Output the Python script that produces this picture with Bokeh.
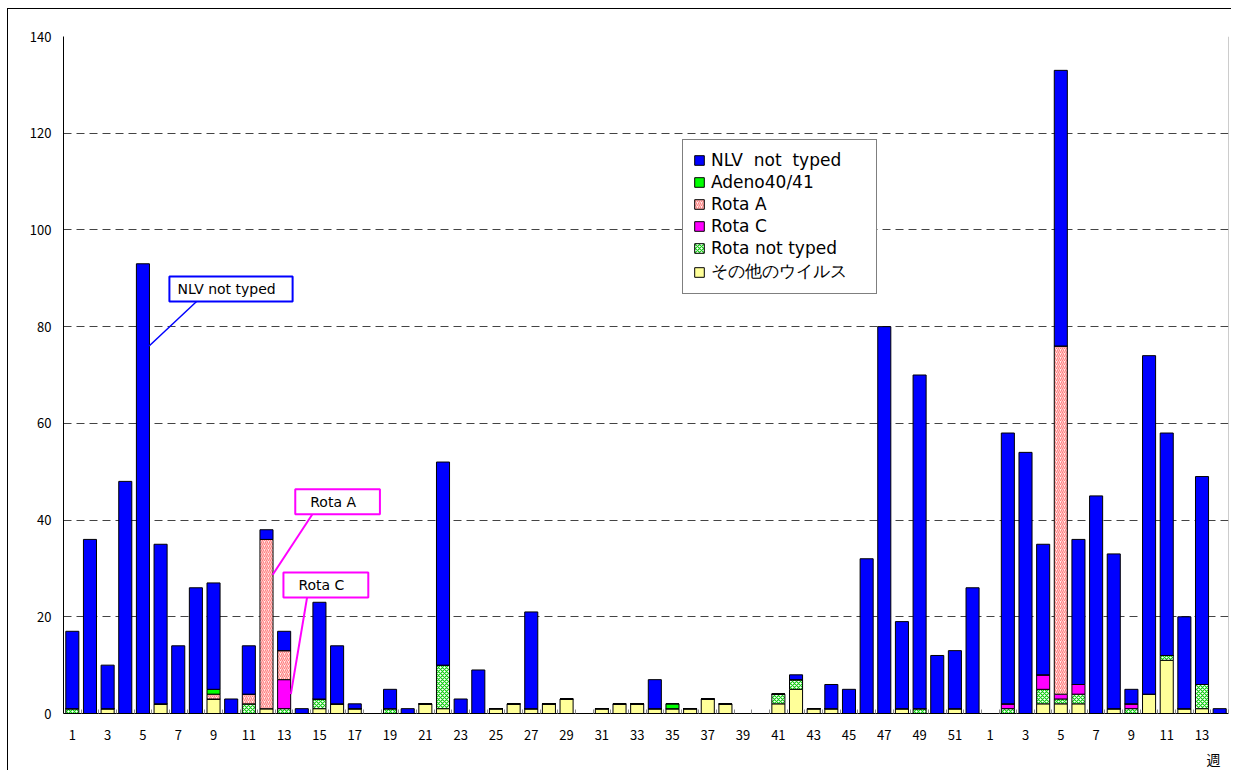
from bokeh.plotting import figure
from bokeh.models import (Range1d, FixedTicker, Legend, LegendItem, Label,
                          ColumnDataSource, LinearAxis, Span)
from bokeh.embed import file_html
from bokeh.resources import INLINE

# ---- data (week number; 52 weeks of year 1, then 14 weeks of year 2) ----
weeks = [1, 2, 3, 4, 5, 6, 7, 8, 9, 10, 11, 12, 13, 14, 15, 16, 17, 18, 19, 20,
         21, 22, 23, 24, 25, 26, 27, 28, 29, 30, 31, 32, 33, 34, 35, 36, 37, 38, 39, 40,
         41, 42, 43, 44, 45, 46, 47, 48, 49, 50, 51, 52,
         1, 2, 3, 4, 5, 6, 7, 8, 9, 10, 11, 12, 13, 14]

other = [0, 0, 1, 0, 0, 2, 0, 0, 3, 0, 0, 1, 0, 0, 1, 2, 1, 0, 0, 0,
         2, 1, 0, 0, 1, 2, 1, 2, 3, 0, 1, 2, 2, 1, 1, 1, 3, 2, 0, 0,
         2, 5, 1, 1, 0, 0, 0, 1, 0, 0, 1, 0,
         0, 0, 0, 2, 2, 2, 0, 1, 0, 4, 11, 1, 1, 0]
rota_nt = [1, 0, 0, 0, 0, 0, 0, 0, 0, 0, 2, 0, 1, 0, 2, 0, 0, 0, 1, 0,
           0, 9, 0, 0, 0, 0, 0, 0, 0, 0, 0, 0, 0, 0, 0, 0, 0, 0, 0, 0,
           2, 2, 0, 0, 0, 0, 0, 0, 1, 0, 0, 0,
           0, 1, 0, 3, 1, 2, 0, 0, 1, 0, 1, 0, 5, 0]
rota_c = [0, 0, 0, 0, 0, 0, 0, 0, 0, 0, 0, 0, 6, 0, 0, 0, 0, 0, 0, 0,
          0, 0, 0, 0, 0, 0, 0, 0, 0, 0, 0, 0, 0, 0, 0, 0, 0, 0, 0, 0,
          0, 0, 0, 0, 0, 0, 0, 0, 0, 0, 0, 0,
          0, 1, 0, 3, 1, 2, 0, 0, 1, 0, 0, 0, 0, 0]
rota_a = [0, 0, 0, 0, 0, 0, 0, 0, 1, 0, 2, 35, 6, 0, 0, 0, 0, 0, 0, 0,
          0, 0, 0, 0, 0, 0, 0, 0, 0, 0, 0, 0, 0, 0, 0, 0, 0, 0, 0, 0,
          0, 0, 0, 0, 0, 0, 0, 0, 0, 0, 0, 0,
          0, 0, 0, 0, 72, 0, 0, 0, 0, 0, 0, 0, 0, 0]
adeno = [0, 0, 0, 0, 0, 0, 0, 0, 1, 0, 0, 0, 0, 0, 0, 0, 0, 0, 0, 0,
         0, 0, 0, 0, 0, 0, 0, 0, 0, 0, 0, 0, 0, 0, 1, 0, 0, 0, 0, 0,
         0, 0, 0, 0, 0, 0, 0, 0, 0, 0, 0, 0,
         0, 0, 0, 0, 0, 0, 0, 0, 0, 0, 0, 0, 0, 0]
nlv = [16, 36, 9, 48, 93, 33, 14, 26, 22, 3, 10, 2, 4, 1, 20, 12, 1, 0, 4, 1,
       0, 42, 3, 9, 0, 0, 20, 0, 0, 0, 0, 0, 0, 6, 0, 0, 0, 0, 0, 0,
       0, 1, 0, 5, 5, 32, 80, 18, 69, 12, 12, 26,
       0, 56, 54, 27, 57, 30, 45, 32, 3, 70, 46, 19, 43, 1]

series_keys = ["other", "rota_nt", "rota_c", "rota_a", "adeno", "nlv"]
series_labels = ["その他のウイルス", "Rota not typed", "Rota C", "Rota A",
                 "Adeno40/41", "NLV  not  typed"]
y_ticks = [0, 20, 40, 60, 80, 100, 120, 140]
x_unit_label = "週"

FONT = "Noto Sans CJK JP"
LFONT = "DejaVu Sans"

n = len(weeks)
xs = list(range(n))
src = ColumnDataSource(dict(x=xs, other=other, rota_nt=rota_nt, rota_c=rota_c,
                            rota_a=rota_a, adeno=adeno, nlv=nlv))

p = figure(width=1224, height=762, output_backend="svg", toolbar_location=None,
           x_range=Range1d(-0.5, n - 0.5), y_range=Range1d(0, 140),
           min_border_left=55, min_border_right=4, min_border_top=27,
           min_border_bottom=55)
p.outline_line_color = None
p.background_fill_color = "white"
p.border_fill_color = "white"
p.styles = {"margin-left": "7px", "margin-top": "8px",
            "border-left": "1px solid black", "border-top": "1px solid black"}

rs = p.vbar_stack(series_keys, x="x", width=0.74, source=src,
                  fill_color=["#ffff99", "#ffffff", "#ff00ff", "#fff0f0", "#00ff00", "#0000ff"],
                  line_color="black", line_width=1,
                  hatch_pattern=[" ", "x", " ", "/", " ", " "],
                  hatch_color=["#ffff99", "#11cc11", "#ff00ff", "#ff8080", "#00ff00", "#0000ff"],
                  hatch_scale=4, hatch_weight=1.2)

# axes
p.yaxis.ticker = FixedTicker(ticks=y_ticks)
p.yaxis.major_tick_out = 0
p.yaxis.major_tick_in = 0
p.yaxis.minor_tick_out = 0
p.yaxis.major_label_standoff = 12
p.yaxis.axis_line_color = "black"
p.yaxis.major_label_text_font = FONT
p.yaxis.major_label_text_font_size = "13px"
p.yaxis.major_label_text_color = "black"

major = xs[0:n - 1:2]
p.xaxis.ticker = FixedTicker(ticks=major, minor_ticks=[i - 0.5 for i in range(n + 1)])
p.xaxis.major_label_overrides = {i: str(weeks[i]) for i in major}
p.xaxis.major_tick_out = 0
p.xaxis.major_tick_in = 0
p.xaxis.minor_tick_in = 4
p.xaxis.minor_tick_out = 0
p.xaxis.minor_tick_line_color = "#888888"
p.xaxis.major_label_standoff = 16
p.xaxis.axis_line_color = "black"
p.xaxis.major_label_text_font = FONT
p.xaxis.major_label_text_font_size = "13px"
p.xaxis.major_label_text_color = "black"

# second bottom axis carrying only the unit label "週"
unit_pos = n - 1.35
ax2 = LinearAxis(ticker=FixedTicker(ticks=[unit_pos]),
                 major_label_overrides={unit_pos: x_unit_label})
ax2.axis_line_color = None
ax2.major_tick_line_color = None
ax2.minor_tick_line_color = None
ax2.major_label_standoff = 0
ax2.major_label_text_font = FONT
ax2.major_label_text_font_size = "14px"
ax2.major_label_text_color = "black"
p.add_layout(ax2, "below")

p.xgrid.grid_line_color = None
p.ygrid.grid_line_color = "#444444"
p.ygrid.grid_line_dash = "8 5"
p.ygrid.grid_line_width = 1

p.add_layout(Span(location=n - 0.5, dimension="height", line_color="#999999", line_width=1))

# legend (order: top of stack first)
items = [LegendItem(label=series_labels[k], renderers=[rs[k]]) for k in [5, 4, 3, 2, 1, 0]]
legend = Legend(items=items, location=(619, 419), orientation="vertical")
legend.label_text_font = LFONT
legend.label_text_font_size = "17px"
legend.label_text_color = "black"
legend.label_height = 18
legend.label_width = 155
legend.glyph_height = 12
legend.glyph_width = 12
legend.label_standoff = 6
legend.spacing = 2
legend.padding = 10
legend.margin = 0
legend.border_line_color = "black"
legend.border_line_width = 1
legend.background_fill_alpha = 1
p.add_layout(legend)

# callouts
ann_lines = dict(x0=[7.1, 13.6, 13.3], y0=[85.4, 41.2, 24.0],
                 x1=[4.35, 11.35, 12.38], y1=[76.0, 28.7, 4.0],
                 c=["#0000ff", "#ff00ff", "#ff00ff"], w=[1.5, 2, 2])
p.segment(x0="x0", y0="y0", x1="x1", y1="y1", color="c", line_width="w",
          source=ColumnDataSource(ann_lines))

for txt, x, y, col, pad in [("NLV  not  typed", 5.5, 85.2, "#0000ff", 8),
                            ("Rota   A", 12.63, 41.2, "#ff00ff", 15),
                            ("Rota   C", 11.96, 24.0, "#ff00ff", 15)]:
    p.add_layout(Label(x=x, y=y, text=txt, text_font=LFONT, text_font_size="14px",
                       text_color="black", text_align="left", text_baseline="bottom",
                       border_line_color=col, border_line_width=2,
                       background_fill_color="white",
                       padding=dict(left=pad, right=pad, top=5, bottom=4)))

open("out.html", "w").write(file_html(p, INLINE))
